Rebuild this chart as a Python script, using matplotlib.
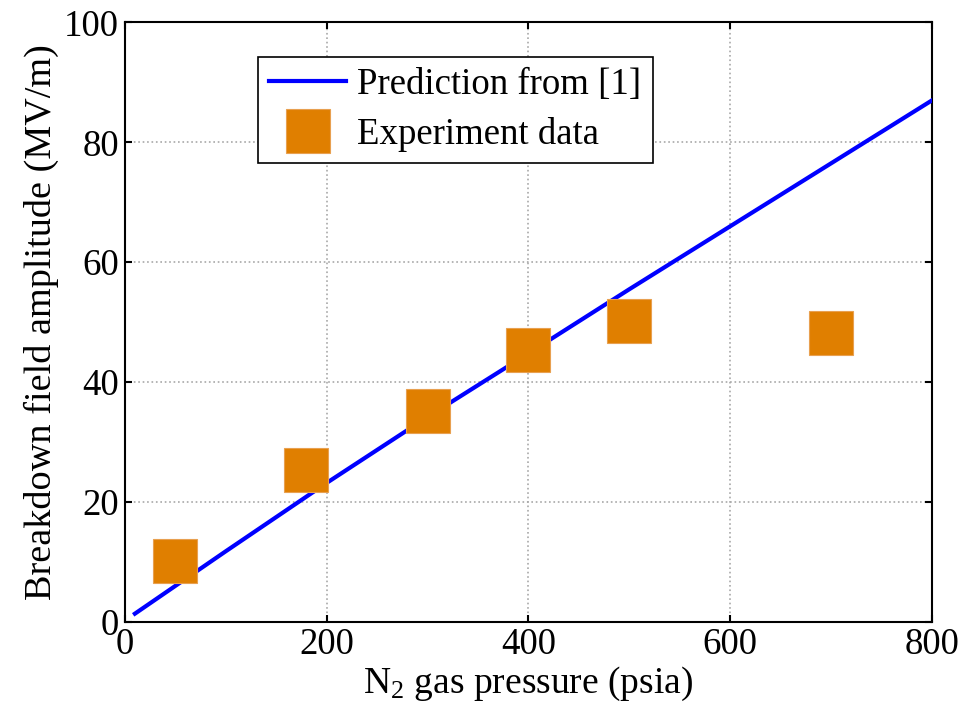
import matplotlib
matplotlib.use("Agg")
import matplotlib.pyplot as plt

# prediction curve
pred_pressure = [10, 100, 200, 300, 400, 500, 600, 700, 800]
pred_field = [1.4, 11.8, 23.2, 34.2, 44.8, 55.5, 66.0, 76.5, 87.0]

# experiment points
exp_pressure = [50, 180, 300, 400, 500, 700]
exp_field = [10.2, 25.3, 35.2, 45.3, 50.2, 48.2]

plt.rcParams['font.family'] = ['Liberation Serif', 'DejaVu Serif']
plt.rcParams['mathtext.fontset'] = 'custom'
plt.rcParams['mathtext.rm'] = 'Liberation Serif'
plt.rcParams['mathtext.it'] = 'Liberation Serif:italic'

fig = plt.figure(figsize=(9.75, 7.2), dpi=100)
ax = fig.add_axes([0.128, 0.136, 0.828, 0.833])

ax.plot(pred_pressure, pred_field, color='#0000FF', lw=3,
        label='Prediction from [1]', zorder=3)
ax.plot(exp_pressure, exp_field, ls='none', marker='s', ms=32,
        color='#E07F00', mec='#E8A050', mew=0.8,
        label='Experiment data', zorder=4)

ax.set_xlim(0, 800)
ax.set_ylim(0, 100)
ax.set_xticks([0, 200, 400, 600, 800])
ax.set_yticks([0, 20, 40, 60, 80, 100])
ax.grid(True, color='#a8a8a8', ls=':', lw=1.2)
ax.tick_params(direction='in', top=True, right=True, labelsize=26.5,
               length=5, width=1.5, pad=4)
for s in ax.spines.values():
    s.set_linewidth(1.5)

ax.set_xlabel('N$_2$ gas pressure (psia)', fontsize=27, labelpad=2)
ax.set_ylabel('Breakdown field amplitude (MV/m)', fontsize=27.5, labelpad=4)

leg = ax.legend(loc='upper left', bbox_to_anchor=(0.165, 0.943),
                borderaxespad=0, fontsize=26.5, fancybox=False,
                edgecolor='black', framealpha=1, handlelength=2.1,
                handletextpad=0.3, borderpad=0.3, labelspacing=0.4,
                markerscale=1.0)
leg.get_frame().set_linewidth(1.2)

fig.savefig('out.png', dpi=100)
